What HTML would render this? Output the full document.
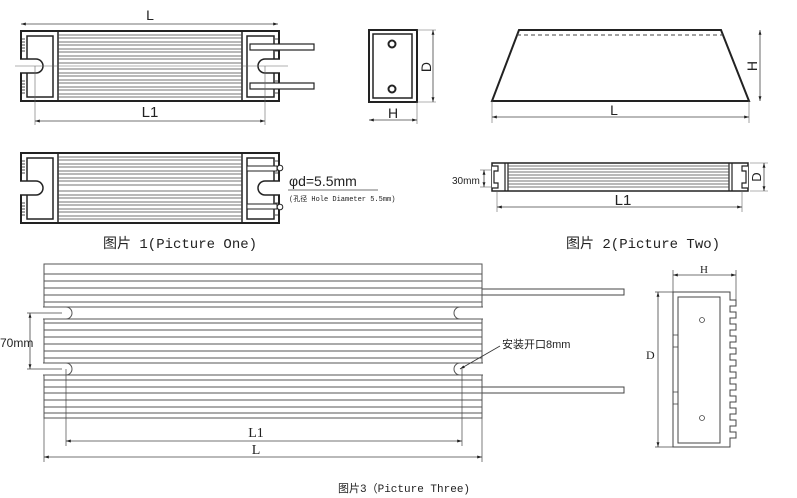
<!DOCTYPE html>
<html><head><meta charset="utf-8"><style>
html,body{margin:0;padding:0;background:#fff;}
svg{display:block;}
text{fill:#222;}
</style></head><body>
<svg width="797" height="498" viewBox="0 0 797 498" xmlns="http://www.w3.org/2000/svg" font-family="Liberation Mono, Noto Sans CJK SC, monospace">
<defs>
<marker id="a" viewBox="0 0 10 10" refX="10" refY="5" markerWidth="6" markerHeight="6" orient="auto-start-reverse"><path d="M0,2 L10,5 L0,8z" fill="#222"/></marker>
<g id="p1body">
 <rect x="21" y="0" width="258" height="70" fill="#fff" stroke="#222" stroke-width="2"/>
 <rect x="27" y="5" width="26" height="61" fill="none" stroke="#222" stroke-width="1.5"/>
 <line x1="58" y1="0" x2="58" y2="70" stroke="#222" stroke-width="1.5"/>
 <line x1="242" y1="0" x2="242" y2="70" stroke="#222" stroke-width="1.5"/>
 <rect x="247" y="5" width="27" height="61" fill="none" stroke="#222" stroke-width="1.5"/>
 <g stroke="#444" stroke-width="0.8">
  <line x1="58" x2="242" y1="4" y2="4"/><line x1="58" x2="242" y1="7" y2="7"/><line x1="58" x2="242" y1="11" y2="11"/><line x1="58" x2="242" y1="14" y2="14"/><line x1="58" x2="242" y1="18" y2="18"/><line x1="58" x2="242" y1="21" y2="21"/><line x1="58" x2="242" y1="25" y2="25"/><line x1="58" x2="242" y1="28" y2="28"/><line x1="58" x2="242" y1="32" y2="32"/><line x1="58" x2="242" y1="38" y2="38"/><line x1="58" x2="242" y1="42" y2="42"/><line x1="58" x2="242" y1="45" y2="45"/><line x1="58" x2="242" y1="49" y2="49"/><line x1="58" x2="242" y1="52" y2="52"/><line x1="58" x2="242" y1="56" y2="56"/><line x1="58" x2="242" y1="59" y2="59"/><line x1="58" x2="242" y1="63" y2="63"/><line x1="58" x2="242" y1="66" y2="66"/>
 </g>
 <g stroke="#222" stroke-width="0.8">
  <line x1="21" x2="25" y1="8" y2="8"/><line x1="21" x2="25" y1="11" y2="11"/><line x1="21" x2="25" y1="14" y2="14"/><line x1="21" x2="25" y1="17" y2="17"/><line x1="21" x2="25" y1="20" y2="20"/>
  <line x1="21" x2="25" y1="50" y2="50"/><line x1="21" x2="25" y1="53" y2="53"/><line x1="21" x2="25" y1="56" y2="56"/><line x1="21" x2="25" y1="59" y2="59"/><line x1="21" x2="25" y1="62" y2="62"/>
  <line x1="275" x2="279" y1="8" y2="8"/><line x1="275" x2="279" y1="20" y2="20"/><line x1="275" x2="279" y1="50" y2="50"/><line x1="275" x2="279" y1="62" y2="62"/>
 </g>
 <path d="M20 28 H36 A7 7 0 0 1 36 42 H20" fill="#fff" stroke="#222" stroke-width="1.5"/>
 <path d="M280 28 H265 A7 7 0 0 0 265 42 H280" fill="#fff" stroke="#222" stroke-width="1.5"/>
</g>
</defs>

<line x1="21" y1="24" x2="278" y2="24" stroke="#444" stroke-width="0.8" marker-start="url(#a)" marker-end="url(#a)"/>
<text x="150" y="20" font-size="14" text-anchor="middle" font-family="Liberation Sans">L</text>
<use href="#p1body" y="31"/>
<rect x="250" y="44" width="64" height="6" fill="#fff" stroke="#222" stroke-width="1.2"/>
<rect x="250" y="83" width="64" height="6" fill="#fff" stroke="#222" stroke-width="1.2"/>
<line x1="15" y1="66" x2="288" y2="66" stroke="#666" stroke-width="0.6"/>
<line x1="35" y1="66" x2="35" y2="125" stroke="#666" stroke-width="0.6"/>
<line x1="265" y1="66" x2="265" y2="125" stroke="#666" stroke-width="0.6"/>
<line x1="35" y1="121" x2="265" y2="121" stroke="#444" stroke-width="0.8" marker-start="url(#a)" marker-end="url(#a)"/>
<text x="150" y="117" font-size="15" text-anchor="middle" font-family="Liberation Sans">L1</text>

<use href="#p1body" y="153"/>
<rect x="247" y="166" width="30" height="5" fill="#fff" stroke="#222" stroke-width="1"/>
<rect x="247" y="204" width="30" height="5" fill="#fff" stroke="#222" stroke-width="1"/>
<circle cx="280" cy="168" r="2.8" fill="#fff" stroke="#222" stroke-width="1"/>
<circle cx="280" cy="207" r="2.8" fill="#fff" stroke="#222" stroke-width="1"/>
<text x="289" y="186" font-size="14" font-family="Liberation Sans">φd=5.5mm</text>
<line x1="288" y1="190" x2="378" y2="190" stroke="#444" stroke-width="0.8"/>
<text x="289" y="201" font-size="7">(孔径 Hole Diameter 5.5mm)</text>
<text x="103" y="248" font-size="14">图片 1(Picture One)</text>

<rect x="369" y="30" width="48" height="72" fill="none" stroke="#222" stroke-width="2"/>
<rect x="373" y="34" width="39" height="64" fill="none" stroke="#222" stroke-width="1.5"/>
<circle cx="392" cy="44" r="3.5" fill="none" stroke="#222" stroke-width="2"/>
<circle cx="392" cy="89" r="3.5" fill="none" stroke="#222" stroke-width="2"/>
<line x1="417" y1="30" x2="436" y2="30" stroke="#666" stroke-width="0.6"/>
<line x1="417" y1="102" x2="436" y2="102" stroke="#666" stroke-width="0.6"/>
<line x1="433" y1="30" x2="433" y2="102" stroke="#444" stroke-width="0.8" marker-start="url(#a)" marker-end="url(#a)"/>
<text x="0" y="0" font-size="14" font-family="Liberation Sans" transform="translate(431,67) rotate(-90)" text-anchor="middle">D</text>
<line x1="417" y1="102" x2="417" y2="124" stroke="#666" stroke-width="0.6"/>
<line x1="369" y1="120" x2="417" y2="120" stroke="#444" stroke-width="0.8" marker-start="url(#a)" marker-end="url(#a)"/>
<text x="393" y="118" font-size="14" text-anchor="middle" font-family="Liberation Sans">H</text>

<path d="M519 30 H721 L749 101 H492 Z" fill="#fff" stroke="#222" stroke-width="2"/>
<line x1="517" y1="35" x2="723" y2="35" stroke="#444" stroke-width="1" stroke-dasharray="4,3"/>
<line x1="760" y1="30" x2="760" y2="101" stroke="#444" stroke-width="0.8" marker-start="url(#a)" marker-end="url(#a)"/>
<text x="0" y="0" font-size="14" font-family="Liberation Sans" transform="translate(757,66) rotate(-90)" text-anchor="middle">H</text>
<line x1="492" y1="101" x2="492" y2="123" stroke="#666" stroke-width="0.6"/>
<line x1="749" y1="101" x2="749" y2="123" stroke="#666" stroke-width="0.6"/>
<line x1="492" y1="117" x2="749" y2="117" stroke="#444" stroke-width="0.8" marker-start="url(#a)" marker-end="url(#a)"/>
<text x="614" y="115" font-size="14" text-anchor="middle" font-family="Liberation Sans">L</text>

<rect x="492" y="163" width="256" height="28" fill="#fff" stroke="#222" stroke-width="1.5"/>
<line x1="505" y1="163" x2="505" y2="191" stroke="#222" stroke-width="1.2"/>
<line x1="508" y1="163" x2="508" y2="191" stroke="#222" stroke-width="1.2"/>
<line x1="729" y1="163" x2="729" y2="191" stroke="#222" stroke-width="1.2"/>
<line x1="732" y1="163" x2="732" y2="191" stroke="#222" stroke-width="1.2"/>
<g stroke="#444" stroke-width="0.8">
<line x1="508" x2="729" y1="166" y2="166"/><line x1="508" x2="729" y1="169" y2="169"/><line x1="508" x2="729" y1="172" y2="172"/><line x1="508" x2="729" y1="175" y2="175"/><line x1="508" x2="729" y1="178" y2="178"/><line x1="508" x2="729" y1="181" y2="181"/><line x1="508" x2="729" y1="184" y2="184"/><line x1="508" x2="729" y1="187" y2="187"/>
</g>
<path d="M492 166 H498 V171 H494 V183 H498 V188 H492" fill="#fff" stroke="#222" stroke-width="1.2"/>
<path d="M748 166 H742 V171 H746 V183 H742 V188 H748" fill="#fff" stroke="#222" stroke-width="1.2"/>
<line x1="480" y1="170" x2="492" y2="170" stroke="#666" stroke-width="0.6"/>
<line x1="480" y1="187" x2="492" y2="187" stroke="#666" stroke-width="0.6"/>
<line x1="484" y1="170" x2="484" y2="187" stroke="#444" stroke-width="0.8" marker-start="url(#a)" marker-end="url(#a)"/>
<text x="452" y="184" font-size="10" font-family="Liberation Sans">30mm</text>
<line x1="750" y1="163" x2="768" y2="163" stroke="#666" stroke-width="0.6"/>
<line x1="750" y1="191" x2="768" y2="191" stroke="#666" stroke-width="0.6"/>
<line x1="764" y1="163" x2="764" y2="191" stroke="#444" stroke-width="0.8" marker-start="url(#a)" marker-end="url(#a)"/>
<text x="0" y="0" font-size="13" font-family="Liberation Sans" transform="translate(761,177) rotate(-90)" text-anchor="middle">D</text>
<line x1="497" y1="191" x2="497" y2="212" stroke="#666" stroke-width="0.6"/>
<line x1="742" y1="191" x2="742" y2="212" stroke="#666" stroke-width="0.6"/>
<line x1="497" y1="207" x2="742" y2="207" stroke="#444" stroke-width="0.8" marker-start="url(#a)" marker-end="url(#a)"/>
<text x="623" y="205" font-size="15" text-anchor="middle" font-family="Liberation Sans">L1</text>
<text x="566" y="248" font-size="14">图片 2(Picture Two)</text>

<rect x="482" y="289" width="142" height="6" fill="#fff" stroke="#444" stroke-width="1"/>
<rect x="482" y="387" width="142" height="6" fill="#fff" stroke="#444" stroke-width="1"/>
<rect x="44" y="264" width="438" height="154" fill="#fff" stroke="#555" stroke-width="1"/>
<g stroke="#555" stroke-width="0.9">
<line x1="44" x2="482" y1="274" y2="274"/><line x1="44" x2="482" y1="281" y2="281"/><line x1="44" x2="482" y1="288" y2="288"/><line x1="44" x2="482" y1="295" y2="295"/><line x1="44" x2="482" y1="302" y2="302"/>
<line x1="44" x2="482" y1="323" y2="323"/><line x1="44" x2="482" y1="330" y2="330"/><line x1="44" x2="482" y1="337" y2="337"/><line x1="44" x2="482" y1="344" y2="344"/><line x1="44" x2="482" y1="351" y2="351"/><line x1="44" x2="482" y1="358" y2="358"/>
<line x1="44" x2="482" y1="380" y2="380"/><line x1="44" x2="482" y1="387" y2="387"/><line x1="44" x2="482" y1="393" y2="393"/><line x1="44" x2="482" y1="400" y2="400"/><line x1="44" x2="482" y1="407" y2="407"/><line x1="44" x2="482" y1="413" y2="413"/>
</g>
<g fill="#fff" stroke="#555" stroke-width="1">
<path d="M43 307 H66 A6 6 0 0 1 66 319 H43"/>
<path d="M483 307 H460 A6 6 0 0 0 460 319 H483"/>
<line x1="66" x2="460" y1="307" y2="307"/><line x1="66" x2="460" y1="319" y2="319"/>
<path d="M43 363 H66 A6 6 0 0 1 66 375 H43"/>
<path d="M483 363 H460 A6 6 0 0 0 460 375 H483"/>
<line x1="66" x2="460" y1="363" y2="363"/><line x1="66" x2="460" y1="375" y2="375"/>
</g>
<line x1="27" y1="313" x2="62" y2="313" stroke="#444" stroke-width="0.7"/>
<line x1="27" y1="369" x2="62" y2="369" stroke="#444" stroke-width="0.7"/>
<line x1="30" y1="313" x2="30" y2="369" stroke="#444" stroke-width="0.8" marker-start="url(#a)" marker-end="url(#a)"/>
<text x="0" y="347" font-size="12" font-family="Liberation Sans">70mm</text>
<line x1="460" y1="369" x2="500" y2="346" stroke="#333" stroke-width="0.8" marker-start="url(#a)"/>
<text x="502" y="348" font-size="11" font-family="Liberation Sans, Noto Sans CJK SC, sans-serif">安装开口8mm</text>
<line x1="66" y1="369" x2="66" y2="446" stroke="#444" stroke-width="0.7"/>
<line x1="462" y1="369" x2="462" y2="446" stroke="#444" stroke-width="0.7"/>
<line x1="66" y1="441" x2="462" y2="441" stroke="#444" stroke-width="0.8" marker-start="url(#a)" marker-end="url(#a)"/>
<text x="256" y="437" font-size="14" text-anchor="middle" font-family="Liberation Serif">L1</text>
<line x1="44" y1="418" x2="44" y2="462" stroke="#444" stroke-width="0.7"/>
<line x1="482" y1="418" x2="482" y2="462" stroke="#444" stroke-width="0.7"/>
<line x1="44" y1="457" x2="482" y2="457" stroke="#444" stroke-width="0.8" marker-start="url(#a)" marker-end="url(#a)"/>
<text x="256" y="454" font-size="14" text-anchor="middle" font-family="Liberation Serif">L</text>
<text x="338" y="492" font-size="11">图片3（Picture Three)</text>

<line x1="673" y1="270" x2="673" y2="292" stroke="#444" stroke-width="0.7"/>
<line x1="736" y1="270" x2="736" y2="300" stroke="#444" stroke-width="0.7"/>
<line x1="673" y1="275" x2="736" y2="275" stroke="#444" stroke-width="0.8" marker-start="url(#a)" marker-end="url(#a)"/>
<text x="704" y="273" font-size="11" text-anchor="middle" font-family="Liberation Serif">H</text>
<line x1="655" y1="292" x2="673" y2="292" stroke="#444" stroke-width="0.7"/>
<line x1="655" y1="447" x2="673" y2="447" stroke="#444" stroke-width="0.7"/>
<line x1="658" y1="292" x2="658" y2="447" stroke="#444" stroke-width="0.8" marker-start="url(#a)" marker-end="url(#a)"/>
<text x="646" y="359" font-size="12" font-family="Liberation Serif">D</text>
<path d="M673 292 H730 V300 H736 V306 H730 V312 H736 V318 H730 V324 H736 V330 H730 V336 H736 V342 H730 V348 H736 V354 H730 V360 H736 V366 H730 V372 H736 V378 H730 V384 H736 V390 H730 V396 H736 V402 H730 V408 H736 V414 H730 V420 H736 V426 H730 V432 H736 V438 H730 V447 H673 Z" fill="#fff" stroke="#444" stroke-width="1"/>
<rect x="678" y="297" width="42" height="146" fill="none" stroke="#444" stroke-width="1"/>
<rect x="673" y="335" width="5" height="12" fill="none" stroke="#444" stroke-width="0.8"/>
<rect x="673" y="392" width="5" height="12" fill="none" stroke="#444" stroke-width="0.8"/>
<circle cx="702" cy="320" r="2.5" fill="none" stroke="#444" stroke-width="0.8"/>
<circle cx="702" cy="418" r="2.5" fill="none" stroke="#444" stroke-width="0.8"/>
</svg>
</body></html>
